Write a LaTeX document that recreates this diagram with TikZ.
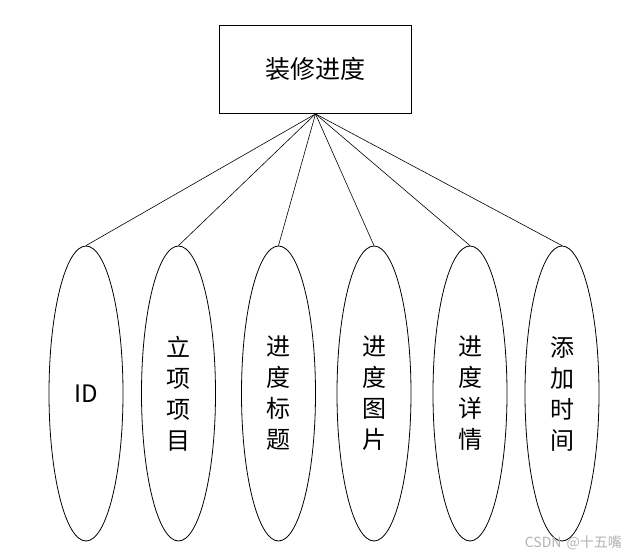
\documentclass[tikz,border=0pt]{standalone}
\usepackage{fontspec}
\setmainfont{Noto Sans CJK SC}
\usetikzlibrary{shapes.geometric}
\begin{document}
\begin{tikzpicture}[x=1pt,y=-1pt,
  entity/.style={draw, line width=0.8pt, minimum width=192pt, minimum height=88pt, inner sep=0pt, font=\fontsize{25}{30}\selectfont},
  attr/.style={draw, ellipse, line width=0.8pt, minimum width=74pt, minimum height=295pt, inner sep=0pt, align=center, font=\fontsize{24}{31}\selectfont},
  link/.style={line width=0.6pt}]
\useasboundingbox (0,0) rectangle (633,559);
\node[entity] (top) at (315.5,69.5) {装修进度};
\node[attr] (a1) at (86,393.5) {ID};
\node[attr] (a2) at (178.5,393.5) {立\\项\\项\\目};
\node[attr] (a3) at (278.5,393.5) {进\\度\\标\\题};
\node[attr] (a4) at (374,393.5) {进\\度\\图\\片};
\node[attr] (a5) at (470,393.5) {进\\度\\详\\情};
\node[attr] (a6) at (562,393.5) {添\\加\\时\\间};
\foreach \i in {1,...,6} \draw[link] (top.south) -- (a\i.north);
\node[text=gray!60, font=\fontsize{14}{16}\selectfont, anchor=east, inner sep=0pt] (wm) at (622,543) {CSDN\hspace{5pt}@十五嘴};
\end{tikzpicture}
\end{document}
